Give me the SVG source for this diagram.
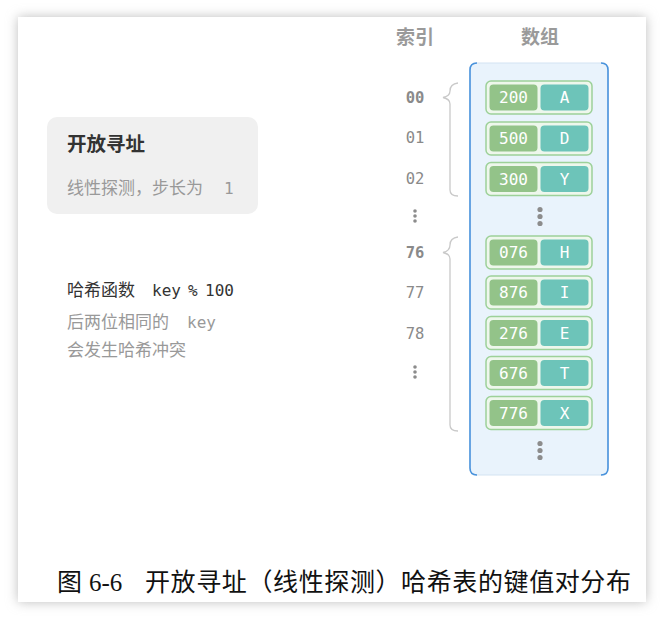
<svg xmlns="http://www.w3.org/2000/svg" width="664" height="620" viewBox="0 0 664 620">
<defs>
<filter id="sh" x="-10%" y="-10%" width="120%" height="120%"><feGaussianBlur stdDeviation="6"/></filter>
<style>
.idx{font-family:"DejaVu Sans Mono","Liberation Mono",monospace;font-size:15.5px;fill:#8a8a8a;text-anchor:middle}
.idxb{font-weight:bold}
.hdr{font-family:"Noto Sans CJK SC",sans-serif;font-size:19px;font-weight:bold;fill:#9a9a9a;text-anchor:middle}
.out{fill:#eef7ec;stroke:#9dd199;stroke-width:1.5}
.k{fill:#93c389}
.v{fill:#6dc4b9}
.et{font-family:"DejaVu Sans Mono","Liberation Mono",monospace;font-size:16px;fill:#ffffff;text-anchor:middle}
.br{fill:none;stroke:#c9c9c9;stroke-width:1.3}
.dot{fill:#8c8c8c}
.t1{font-family:"Noto Sans CJK SC",sans-serif;font-size:19.5px;font-weight:bold;fill:#333}
.t2{font-family:"Noto Sans CJK SC",sans-serif;font-size:17px;fill:#999}
.t3{font-family:"Noto Sans CJK SC",sans-serif;font-size:17px;fill:#333}
.mono{font-family:"DejaVu Sans Mono","Liberation Mono",monospace;font-size:16px}
.cap{font-family:"Liberation Serif","Noto Sans CJK SC",serif;font-size:25px;fill:#111}
</style>
</defs>
<rect x="0" y="0" width="664" height="620" fill="#ffffff"/>
<rect x="18" y="17" width="628" height="585" fill="#bdbdbd" filter="url(#sh)"/>
<rect x="18" y="17" width="628" height="585" fill="#ffffff"/>

<g id="headers">
<text class="hdr" x="415" y="44">索引</text>
<text class="hdr" x="540" y="44">数组</text>
</g>

<g id="card">
<rect x="47" y="117" width="211" height="97" rx="10" fill="#f0f0f0"/>
<text class="t1" x="67" y="151">开放寻址</text>
<text class="t2" x="67" y="194">线性探测，步长为</text>
<text class="t2 mono" x="224" y="194">1</text>
</g>

<g id="hashnote">
<text class="t3" x="67" y="296">哈希函数</text>
<text class="t3 mono" x="152" y="296">key</text>
<text class="t3 mono" x="188" y="296">%</text>
<text class="t3 mono" x="205" y="296">100</text>
<text class="t2" x="67" y="328">后两位相同的</text>
<text class="t2 mono" x="187" y="328">key</text>
<text class="t2" x="67" y="356">会发生哈希冲突</text>
</g>

<g id="array">
<rect x="470" y="63" width="138" height="412" rx="6" fill="#e9f3fc" stroke="#d3e3f2" stroke-width="1"/>
<path d="M477,63 Q470,63 470,70 L470,468 Q470,475 477,475" fill="none" stroke="#4a93dc" stroke-width="1.6"/>
<path d="M601,63 Q608,63 608,70 L608,468 Q608,475 601,475" fill="none" stroke="#4a93dc" stroke-width="1.6"/>
</g>

<g id="indices">
<text class="idx idxb" x="415" y="102.5">00</text>
<text class="idx" x="415" y="143">01</text>
<text class="idx" x="415" y="183.5">02</text>
<circle class="dot" cx="415" cy="211" r="1.8"/><circle class="dot" cx="415" cy="216" r="1.8"/><circle class="dot" cx="415" cy="221" r="1.8"/>
<text class="idx idxb" x="415" y="257.5">76</text>
<text class="idx" x="415" y="298">77</text>
<text class="idx" x="415" y="338.5">78</text>
<circle class="dot" cx="415" cy="367" r="1.8"/><circle class="dot" cx="415" cy="372" r="1.8"/><circle class="dot" cx="415" cy="377" r="1.8"/>
</g>

<g id="connectors">
<path class="br" d="M458,83 Q450,84 450,91 Q450,96 443,97.5 Q450,99 450,104 L450,190 Q450,196 458,196"/>
<path class="br" d="M458,237 Q450,238 450,245 Q450,251 443,252.5 Q450,254 450,259 L450,425 Q450,431 458,431"/>
</g>

<g id="e200"><rect class="out" x="486" y="81" width="106" height="33" rx="5"/><rect class="k" x="489.5" y="84.5" width="48" height="26" rx="4"/><rect class="v" x="540.5" y="84.5" width="48" height="26" rx="4"/><text class="et" x="513.5" y="103">200</text><text class="et" x="564.5" y="103">A</text></g>
<g id="e500"><rect class="out" x="486" y="122" width="106" height="33" rx="5"/><rect class="k" x="489.5" y="125.5" width="48" height="26" rx="4"/><rect class="v" x="540.5" y="125.5" width="48" height="26" rx="4"/><text class="et" x="513.5" y="144">500</text><text class="et" x="564.5" y="144">D</text></g>
<g id="e300"><rect class="out" x="486" y="162.5" width="106" height="33" rx="5"/><rect class="k" x="489.5" y="166" width="48" height="26" rx="4"/><rect class="v" x="540.5" y="166" width="48" height="26" rx="4"/><text class="et" x="513.5" y="184.5">300</text><text class="et" x="564.5" y="184.5">Y</text></g>
<g id="gap1"><circle class="dot" cx="540" cy="209.5" r="2.6"/><circle class="dot" cx="540" cy="216.5" r="2.6"/><circle class="dot" cx="540" cy="223.5" r="2.6"/></g>
<g id="e076"><rect class="out" x="486" y="236" width="106" height="33" rx="5"/><rect class="k" x="489.5" y="239.5" width="48" height="26" rx="4"/><rect class="v" x="540.5" y="239.5" width="48" height="26" rx="4"/><text class="et" x="513.5" y="258">076</text><text class="et" x="564.5" y="258">H</text></g>
<g id="e876"><rect class="out" x="486" y="276" width="106" height="33" rx="5"/><rect class="k" x="489.5" y="279.5" width="48" height="26" rx="4"/><rect class="v" x="540.5" y="279.5" width="48" height="26" rx="4"/><text class="et" x="513.5" y="298">876</text><text class="et" x="564.5" y="298">I</text></g>
<g id="e276"><rect class="out" x="486" y="316.5" width="106" height="33" rx="5"/><rect class="k" x="489.5" y="320" width="48" height="26" rx="4"/><rect class="v" x="540.5" y="320" width="48" height="26" rx="4"/><text class="et" x="513.5" y="338.5">276</text><text class="et" x="564.5" y="338.5">E</text></g>
<g id="e676"><rect class="out" x="486" y="356.5" width="106" height="33" rx="5"/><rect class="k" x="489.5" y="360" width="48" height="26" rx="4"/><rect class="v" x="540.5" y="360" width="48" height="26" rx="4"/><text class="et" x="513.5" y="378.5">676</text><text class="et" x="564.5" y="378.5">T</text></g>
<g id="e776"><rect class="out" x="486" y="396.5" width="106" height="33" rx="5"/><rect class="k" x="489.5" y="400" width="48" height="26" rx="4"/><rect class="v" x="540.5" y="400" width="48" height="26" rx="4"/><text class="et" x="513.5" y="418.5">776</text><text class="et" x="564.5" y="418.5">X</text></g>
<g id="gap2"><circle class="dot" cx="540" cy="443.5" r="2.6"/><circle class="dot" cx="540" cy="450.5" r="2.6"/><circle class="dot" cx="540" cy="457.5" r="2.6"/></g>

<g id="caption">
<text class="cap" x="57" y="591">图</text>
<text class="cap" x="89" y="591">6-6</text>
<text class="cap" x="145" y="591" textLength="486">开放寻址（线性探测）哈希表的键值对分布</text>
</g>
</svg>
